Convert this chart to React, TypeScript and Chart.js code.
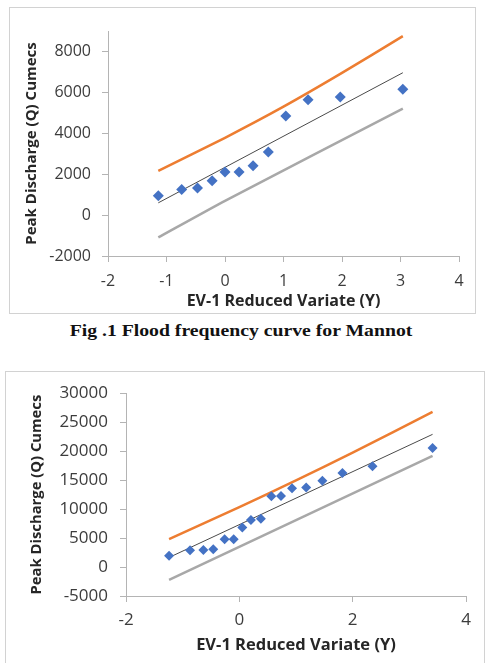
import React, { useEffect, useRef } from "react";
import { Chart, registerables } from "chart.js";

Chart.register(...registerables);

// Mannot: observed annual peaks plotted against the EV-1 reduced variate
const mannotY = [-1.14, -0.74, -0.47, -0.22, 0.0, 0.24, 0.48, 0.74, 1.04, 1.42, 1.97, 3.04];
const mannotQ = [950, 1250, 1330, 1680, 2110, 2110, 2410, 3090, 4840, 5640, 5770, 6150];
// Gumbel fit and its confidence band
const mannotFitY = [-1.14, 3.04];
const mannotFitQ = [600, 6960];
const mannotUpperY = [-1.14, 0, 1, 2, 3.04];
const mannotUpperQ = [2160, 3780, 5300, 6950, 8750];
const mannotLowerY = [-1.14, 0, 3.04];
const mannotLowerQ = [-1090, 700, 5200];
const mannotXTicks = [-2, -1, 0, 1, 2, 3, 4];
const mannotQTicks = [-2000, 0, 2000, 4000, 6000, 8000];

// Second station
const stationY = [-1.24, -0.87, -0.635, -0.46, -0.26, -0.1, 0.053, 0.205, 0.38, 0.565, 0.735, 0.93, 1.18, 1.465, 1.82, 2.35, 3.41];
const stationQ = [1950, 2890, 2950, 3050, 4780, 4780, 6830, 8100, 8350, 12220, 12270, 13580, 13720, 14890, 16220, 17400, 20560];
const stationFitY = [-1.24, 3.41];
const stationFitQ = [1650, 22900];
const stationUpperY = [-1.24, 0, 1, 2, 3.41];
const stationUpperQ = [4830, 10350, 14950, 19750, 26780];
const stationLowerY = [-1.24, 3.41];
const stationLowerQ = [-2200, 19200];
const stationXTicks = [-2, 0, 2, 4];
const stationQTicks = [-5000, 0, 5000, 10000, 15000, 20000, 25000, 30000];

const X_TITLE = "EV-1 Reduced Variate (Y)";
const Y_TITLE = "Peak Discharge (Q) Cumecs";
const CAPTION = "Fig .1 Flood frequency curve for Mannot";

const AXIS = "#b4b4b4";
const TICK_TEXT = "#3c3c3c";
const TITLE_TEXT = "#262626";
const FONT = "'Open Sans', Lato, sans-serif";

const pts = (xs: number[], ys: number[]) => xs.map((x, i) => ({ x, y: ys[i] }));

type Layout = {
  width: number;
  height: number;
  yAxisWidth: number;
  xAxisHeight: number;
  padTop: number;
  padRight: number;
  yTickPad: number;
  xTickPad: number;
  yTitlePad: number;
  xTitlePad: number;
  tickSize: number;
  xTitleSize: number;
  yTitleSize: number;
  pointRadius: number;
};

type Series = {
  obsY: number[];
  obsQ: number[];
  fitY: number[];
  fitQ: number[];
  upY: number[];
  upQ: number[];
  loY: number[];
  loQ: number[];
  xMin: number;
  xMax: number;
  qMin: number;
  qMax: number;
  xTicks: number[];
  qTicks: number[];
};

function FloodChart({ s, l }: { s: Series; l: Layout }) {
  const ref = useRef<HTMLCanvasElement | null>(null);

  useEffect(() => {
    if (!ref.current) return;
    const chart = new Chart(ref.current, {
      type: "scatter",
      data: {
        datasets: [
          {
            label: "Observed",
            data: pts(s.obsY, s.obsQ),
            pointStyle: "rectRot",
            pointRadius: l.pointRadius,
            pointBackgroundColor: "#4472c4",
            pointBorderColor: "#4472c4",
            pointBorderWidth: 0,
            showLine: false,
            order: 0,
          },
          {
            label: "Upper",
            data: pts(s.upY, s.upQ),
            showLine: true,
            borderColor: "#ed7d31",
            borderWidth: 2.5,
            pointRadius: 0,
            tension: 0.2,
            order: 1,
          },
          {
            label: "Fit",
            data: pts(s.fitY, s.fitQ),
            showLine: true,
            borderColor: "#4a4a4a",
            borderWidth: 1,
            pointRadius: 0,
            order: 1,
          },
          {
            label: "Lower",
            data: pts(s.loY, s.loQ),
            showLine: true,
            borderColor: "#a8a8a8",
            borderWidth: 2.5,
            pointRadius: 0,
            tension: 0.2,
            order: 1,
          },
        ],
      },
      options: {
        animation: false,
        responsive: false,
        events: [],
        layout: { padding: { left: 0, top: l.padTop, right: l.padRight, bottom: 0 } },
        plugins: { legend: { display: false }, tooltip: { enabled: false } },
        scales: {
          x: {
            type: "linear",
            min: s.xMin,
            max: s.xMax,
            afterBuildTicks: (sc: any) => {
              sc.ticks = s.xTicks.map((v) => ({ value: v }));
            },
            afterFit: (sc: any) => {
              sc.height = l.xAxisHeight;
            },
            grid: { drawOnChartArea: false, drawTicks: true, tickLength: 6, color: AXIS },
            border: { display: true, color: AXIS, width: 1 },
            ticks: {
              padding: l.xTickPad,
              color: TICK_TEXT,
              font: { family: FONT, size: l.tickSize },
              maxRotation: 0,
              callback: (v: any) => String(v),
            },
            title: {
              display: true,
              text: X_TITLE,
              color: TITLE_TEXT,
              font: { family: FONT, size: l.xTitleSize, weight: "bold" },
              padding: { top: 0, bottom: l.xTitlePad },
            },
          },
          y: {
            type: "linear",
            min: s.qMin,
            max: s.qMax,
            afterBuildTicks: (sc: any) => {
              sc.ticks = s.qTicks.map((v) => ({ value: v }));
            },
            afterFit: (sc: any) => {
              sc.width = l.yAxisWidth;
            },
            grid: { drawOnChartArea: false, drawTicks: true, tickLength: 6, color: AXIS },
            border: { display: true, color: AXIS, width: 1 },
            ticks: {
              padding: l.yTickPad,
              color: TICK_TEXT,
              font: { family: FONT, size: l.tickSize },
              callback: (v: any) => String(v),
            },
            title: {
              display: true,
              text: Y_TITLE,
              color: TITLE_TEXT,
              font: { family: FONT, size: l.yTitleSize, weight: "bold" },
              padding: { top: l.yTitlePad, bottom: 0 },
            },
          },
        },
      },
    } as any);
    return () => chart.destroy();
  }, [s, l]);

  return (
    <canvas
      ref={ref}
      width={l.width}
      height={l.height}
      style={{ display: "block", width: l.width, height: l.height }}
    />
  );
}

const mannotSeries: Series = {
  obsY: mannotY,
  obsQ: mannotQ,
  fitY: mannotFitY,
  fitQ: mannotFitQ,
  upY: mannotUpperY,
  upQ: mannotUpperQ,
  loY: mannotLowerY,
  loQ: mannotLowerQ,
  xMin: -2,
  xMax: 4,
  qMin: -2000,
  qMax: 9000,
  xTicks: mannotXTicks,
  qTicks: mannotQTicks,
};

const stationSeries: Series = {
  obsY: stationY,
  obsQ: stationQ,
  fitY: stationFitY,
  fitQ: stationFitQ,
  upY: stationUpperY,
  upQ: stationUpperQ,
  loY: stationLowerY,
  loQ: stationLowerQ,
  xMin: -2,
  xMax: 4,
  qMin: -5000,
  qMax: 30000,
  xTicks: stationXTicks,
  qTicks: stationQTicks,
};

const mannotLayout: Layout = {
  width: 465,
  height: 305,
  yAxisWidth: 98,
  xAxisHeight: 57,
  padTop: 23,
  padRight: 16,
  yTickPad: 11,
  xTickPad: 10,
  yTitlePad: 13,
  xTitlePad: 1.5,
  tickSize: 16,
  xTitleSize: 16,
  yTitleSize: 15,
  pointRadius: 5.5,
};

const stationLayout: Layout = {
  width: 479,
  height: 292,
  yAxisWidth: 121,
  xAxisHeight: 67,
  padTop: 15,
  padRight: 18,
  yTickPad: 12,
  xTickPad: 7.5,
  yTitlePad: 23,
  xTitlePad: 8,
  tickSize: 17,
  xTitleSize: 16.5,
  yTitleSize: 14.8,
  pointRadius: 5,
};

export default function App() {
  return (
    <div
      style={{
        position: "absolute",
        left: 0,
        top: 0,
        width: 487,
        height: 663,
        overflow: "hidden",
        background: "#ffffff",
      }}
    >
      <div
        style={{
          position: "absolute",
          left: 9,
          top: 7,
          width: 467,
          height: 307,
          boxSizing: "border-box",
          border: "1px solid #d2d2d2",
        }}
      />
      <div style={{ position: "absolute", left: 10, top: 8 }}>
        <FloodChart s={mannotSeries} l={mannotLayout} />
      </div>
      <div
        style={{
          position: "absolute",
          left: 0,
          top: 322,
          width: 482,
          textAlign: "center",
          fontFamily: "'Liberation Serif', 'Times New Roman', serif",
          fontWeight: "bold",
          fontSize: 17,
          lineHeight: "17px",
          color: "#111",
          whiteSpace: "nowrap",
          transform: "scaleX(1.16)",
          transformOrigin: "241px 0",
        }}
      >
        {CAPTION}
      </div>
      <div
        style={{
          position: "absolute",
          left: 5,
          top: 371,
          width: 480,
          height: 320,
          boxSizing: "border-box",
          border: "1px solid #d2d2d2",
        }}
      />
      <div style={{ position: "absolute", left: 5, top: 371 }}>
        <FloodChart s={stationSeries} l={stationLayout} />
      </div>
    </div>
  );
}
